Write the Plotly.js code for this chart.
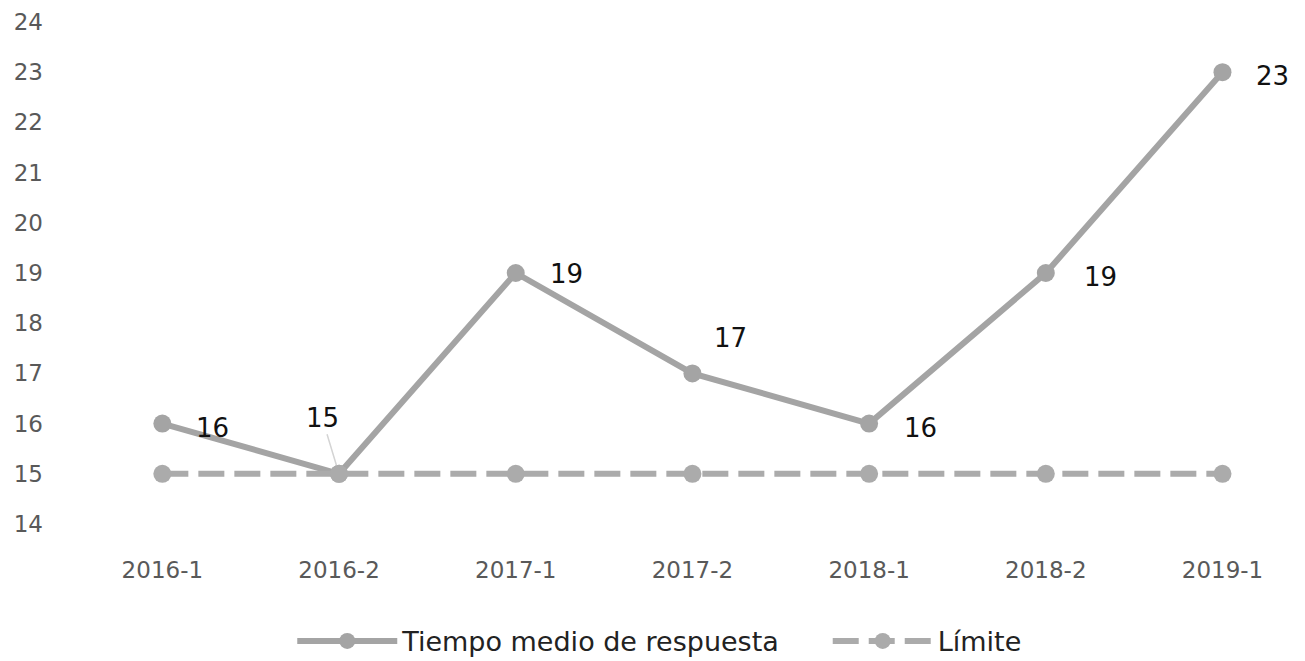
<!DOCTYPE html>
<html>
<head>
<meta charset="utf-8">
<script src="https://cdn.plot.ly/plotly-3.0.1.min.js"></script>
<style>html,body{margin:0;padding:0;background:#fff}#chart{width:1305px;height:661px}</style>
</head>
<body>
<div id="chart"></div>
<script>
const categories = ['2016-1','2016-2','2017-1','2017-2','2018-1','2018-2','2019-1'];
const tiempoMedio = [16, 15, 19, 17, 16, 19, 23];
const limite = [15, 15, 15, 15, 15, 15, 15];
const yTicks = [14,15,16,17,18,19,20,21,22,23,24];

const FONT = '"DejaVu Sans", Lato, sans-serif';
const LINE_COLOR = '#a4a4a4';
const DASH_COLOR = '#ababab';

// label offsets (pixels) relative to each point
const labelShiftX = [50, -17, 51, 38, 51, 55, 50];
const labelShiftY = [-4, 56, -1, 35, -4, -4, -4];

const traces = [
  {
    x: categories, y: tiempoMedio, name: 'Tiempo medio de respuesta\u00a0\u00a0\u00a0\u00a0\u00a0',
    type: 'scatter', mode: 'lines+markers',
    line: {color: LINE_COLOR, width: 6},
    marker: {color: LINE_COLOR, size: 18},
    cliponaxis: false
  },
  {
    x: categories, y: limite, name: 'Límite',
    type: 'scatter', mode: 'lines+markers',
    line: {color: DASH_COLOR, width: 6, dash: '26px,10px'},
    marker: {color: DASH_COLOR, size: 18},
    cliponaxis: false
  }
];

const annotations = categories.map((c, i) => {
  const a = {
    x: c, y: tiempoMedio[i], text: String(tiempoMedio[i]),
    font: {family: FONT, size: 26, color: '#111111'},
    xanchor: 'center', yanchor: 'middle'
  };
  if (i === 1) {
    Object.assign(a, {showarrow: true, ax: labelShiftX[i], ay: -labelShiftY[i],
      arrowhead: 0, arrowwidth: 1.5, arrowcolor: '#d4d4d4', standoff: 9});
  } else {
    Object.assign(a, {showarrow: false, xshift: labelShiftX[i], yshift: labelShiftY[i]});
  }
  return a;
});

const layout = {
  width: 1305, height: 661,
  margin: {l: 74, r: 3, t: 22, b: 137, autoexpand: false},
  paper_bgcolor: '#ffffff', plot_bgcolor: '#ffffff',
  font: {family: FONT, size: 23, color: '#595959'},
  showlegend: true,
  legend: {orientation: 'h', x: 0.477, xanchor: 'center', y: -0.185, yanchor: 'top',
           font: {family: FONT, size: 27, color: '#222222'}, itemwidth: 100},
  annotations: annotations,
  xaxis: {
    type: 'category', range: [-0.5, 6.45], automargin: false,
    showgrid: false, zeroline: false, showline: false,
    tickfont: {family: FONT, size: 23, color: '#595959'},
    ticks: '', ticklabelstandoff: 30
  },
  yaxis: {
    range: [14, 24], tickvals: yTicks, ticktext: yTicks.map(String), automargin: false,
    showgrid: false, zeroline: false, showline: false,
    tickfont: {family: FONT, size: 23, color: '#595959'},
    ticks: '', ticklabelstandoff: 30
  }
};

Plotly.newPlot('chart', traces, layout, {displayModeBar: false, staticPlot: true});
</script>
</body>
</html>
